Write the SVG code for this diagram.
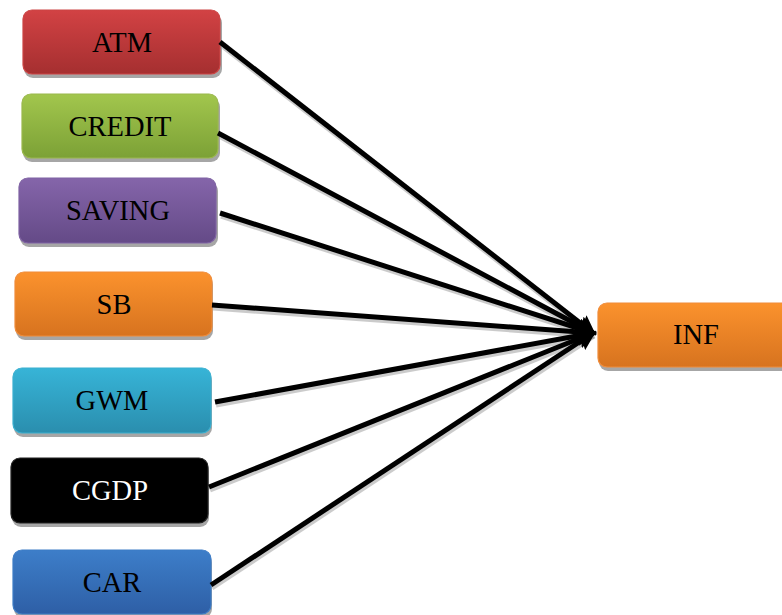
<svg xmlns="http://www.w3.org/2000/svg" width="782" height="615" viewBox="0 0 782 615">
<style>
.box{stroke-width:1.2}
.lbl{font-family:"Liberation Serif","Times New Roman",serif;font-size:28.5px;text-anchor:middle;fill:#000}
.conn line{stroke:#000;stroke-width:5;marker-end:url(#ah)}
.shadow line{stroke:#999;stroke-width:5;opacity:0.5}
.sh{fill:#a6a6a6}
</style>
<defs>
<marker id="ah" markerWidth="4" markerHeight="4" refX="3.2" refY="2" orient="auto" markerUnits="strokeWidth">
<path d="M0,0 L4,2 L0,4 L0.6,2 Z" fill="#000"/>
</marker>
<linearGradient id="gRed" x1="0" y1="0" x2="0" y2="1"><stop offset="0" stop-color="#d24244"/><stop offset="1" stop-color="#a52f30"/></linearGradient>
<linearGradient id="gGreen" x1="0" y1="0" x2="0" y2="1"><stop offset="0" stop-color="#a2c64d"/><stop offset="1" stop-color="#7ca136"/></linearGradient>
<linearGradient id="gPurple" x1="0" y1="0" x2="0" y2="1"><stop offset="0" stop-color="#8565aa"/><stop offset="1" stop-color="#644a87"/></linearGradient>
<linearGradient id="gOrange" x1="0" y1="0" x2="0" y2="1"><stop offset="0" stop-color="#fb922d"/><stop offset="1" stop-color="#d7731f"/></linearGradient>
<linearGradient id="gTeal" x1="0" y1="0" x2="0" y2="1"><stop offset="0" stop-color="#37b4d7"/><stop offset="1" stop-color="#2a8eae"/></linearGradient>
<linearGradient id="gBlue" x1="0" y1="0" x2="0" y2="1"><stop offset="0" stop-color="#3d7ec9"/><stop offset="1" stop-color="#2e5fa6"/></linearGradient>
</defs>
<rect width="782" height="615" fill="#fff"/>
<g class="shadow">
<line x1="221" y1="45" x2="594" y2="336"/>
<line x1="219" y1="136" x2="594" y2="336"/>
<line x1="221" y1="216" x2="594" y2="336"/>
<line x1="213" y1="308" x2="594" y2="336"/>
<line x1="216" y1="405" x2="594" y2="336"/>
<line x1="210" y1="490" x2="594" y2="336"/>
<line x1="212" y1="588" x2="594" y2="336"/>
</g>
<g id="ATM"><rect class="sh" x="24" y="14" width="198" height="64" rx="9"/><rect class="box" x="23" y="10" width="197" height="64" rx="9" fill="url(#gRed)" stroke="#c44"/><text class="lbl" x="122" y="52">ATM</text></g>
<g id="CREDIT"><rect class="sh" x="23" y="98" width="197" height="64" rx="9"/><rect class="box" x="22" y="94" width="196" height="64" rx="9" fill="url(#gGreen)" stroke="#9ab84c"/><text class="lbl" x="120" y="136">CREDIT</text></g>
<g id="SAVING"><rect class="sh" x="20" y="182" width="198" height="65" rx="9"/><rect class="box" x="19" y="178" width="197" height="65" rx="9" fill="url(#gPurple)" stroke="#7f62a3"/><text class="lbl" x="118" y="220">SAVING</text></g>
<g id="SB"><rect class="sh" x="16" y="276" width="197" height="64" rx="9"/><rect class="box" x="15" y="272" width="197" height="64" rx="9" fill="url(#gOrange)" stroke="#f08c3a"/><text class="lbl" x="114" y="314">SB</text></g>
<g id="GWM"><rect class="sh" x="14" y="372" width="198" height="65" rx="9"/><rect class="box" x="13" y="368" width="198" height="65" rx="9" fill="url(#gTeal)" stroke="#3ab0d0"/><text class="lbl" x="112" y="410">GWM</text></g>
<g id="CGDP"><rect class="sh" x="12" y="462" width="197" height="65" rx="9"/><rect class="box" x="11" y="458" width="197" height="65" rx="9" fill="#000" stroke="#222"/><text class="lbl" x="110" y="500" style="fill:#fff">CGDP</text></g>
<g id="CAR"><rect class="sh" x="14" y="554" width="198" height="64" rx="9"/><rect class="box" x="13" y="550" width="198" height="64" rx="9" fill="url(#gBlue)" stroke="#3d7cc6"/><text class="lbl" x="112" y="592">CAR</text></g>
<g id="INF"><rect class="sh" x="599" y="307" width="200" height="64" rx="9"/><rect class="box" x="598" y="303" width="200" height="64" rx="9" fill="url(#gOrange)" stroke="#f08c3a"/><text class="lbl" x="696" y="344">INF</text></g>
<g class="conn">
<line x1="220" y1="42" x2="593" y2="333"/>
<line x1="218" y1="133" x2="593" y2="333"/>
<line x1="220" y1="213" x2="593" y2="333"/>
<line x1="212" y1="305" x2="593" y2="333"/>
<line x1="215" y1="402" x2="593" y2="333"/>
<line x1="209" y1="487" x2="593" y2="333"/>
<line x1="211" y1="585" x2="593" y2="333"/>
</g>
</svg>
